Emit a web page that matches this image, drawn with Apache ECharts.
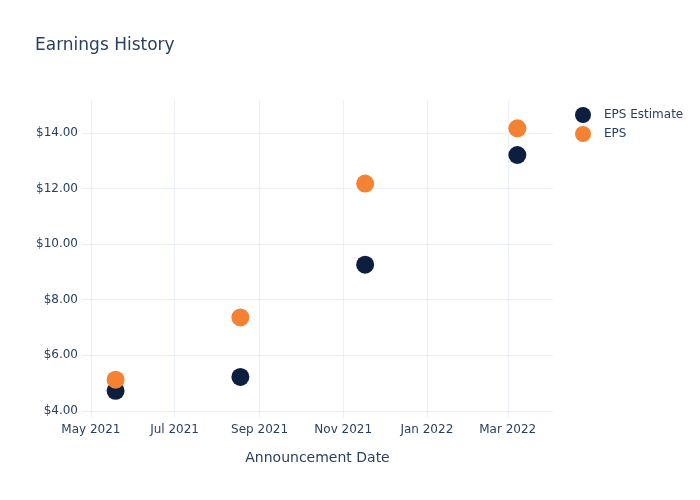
<!DOCTYPE html>
<html><head><meta charset="utf-8">
<script src="https://cdn.jsdelivr.net/npm/echarts@6/dist/echarts.min.js"></script>
<style>html,body{margin:0;padding:0;background:#fff}#c{width:700px;height:500px}</style>
</head><body><div id="c"></div>
<script>
const dates = ['2021-05-19', '2021-08-18', '2021-11-17', '2022-03-08'];
const epsEstimate = [4.72, 5.22, 9.26, 13.21];
const eps = [5.12, 7.36, 12.18, 14.17];
const xTicks = ['2021-05-01', '2021-07-01', '2021-09-01', '2021-11-01', '2022-01-01', '2022-03-01'];
const yTicks = [4, 6, 8, 10, 12, 14];
const monthNames = ['Jan','Feb','Mar','Apr','May','Jun','Jul','Aug','Sep','Oct','Nov','Dec'];

const ts = s => { const [y,m,d] = s.split('-').map(Number); return Date.UTC(y, m-1, d); };
const xTickVals = xTicks.map(ts);
const font = 'DejaVu Sans, sans-serif';
const txt = '#2a3f5f';
const grid = '#ebf0f8';

const chart = echarts.init(document.getElementById('c'), null, {renderer: 'canvas'});
chart.setOption({
  animation: false,
  backgroundColor: '#fff',
  title: {text: 'Earnings History', left: 30, top: 32, textStyle: {fontFamily: font, fontSize: 17, fontWeight: 'normal', color: txt}},
  legend: {
    orient: 'vertical', left: 570, top: 102, itemWidth: 16, itemHeight: 16, itemGap: 3,
    icon: 'circle', textStyle: {fontFamily: font, fontSize: 12, color: txt, padding: [0,0,0,8]},
    data: ['EPS Estimate', 'EPS']
  },
  grid: {left: 82, right: 147, top: 100, bottom: 82, containLabel: false},
  xAxis: {
    type: 'value', scale: true,
    min: ts('2021-04-24') + 12*3600e3, max: ts('2022-04-03'),
    name: 'Announcement Date', nameLocation: 'middle', nameGap: 33,
    nameTextStyle: {fontFamily: font, fontSize: 14, color: txt},
    axisLine: {show: false}, axisTick: {show: false, customValues: xTickVals},
    axisLabel: {customValues: xTickVals, fontFamily: font, fontSize: 12, color: txt, margin: 6,
      formatter: v => { const d = new Date(v); return monthNames[d.getUTCMonth()] + ' ' + d.getUTCFullYear(); }},
    splitLine: {show: true, lineStyle: {color: grid, width: 1}}
  },
  yAxis: {
    type: 'value', min: 3.74, max: 15.19,
    axisLine: {show: false}, axisTick: {show: false, customValues: yTicks},
    axisLabel: {customValues: yTicks, fontFamily: font, fontSize: 12, color: txt, margin: 4,
      formatter: v => '$' + v.toFixed(2)},
    splitLine: {show: true, lineStyle: {color: grid, width: 1}}
  },
  series: [
    {name: 'EPS Estimate', type: 'scatter', symbolSize: 18, itemStyle: {color: '#0d1f3f', opacity: 1},
      data: dates.map((d, i) => [ts(d), epsEstimate[i]])},
    {name: 'EPS', type: 'scatter', symbolSize: 18, itemStyle: {color: '#f58233', opacity: 1},
      data: dates.map((d, i) => [ts(d), eps[i]])}
  ]
});
</script></body></html>
